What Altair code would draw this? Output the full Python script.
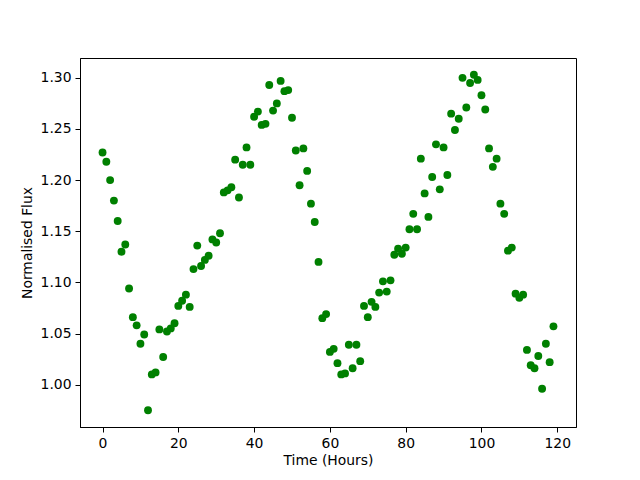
import altair as alt
import pandas as pd

hours = list(range(120))
flux = [
    1.227, 1.218, 1.200, 1.180, 1.160, 1.130, 1.137, 1.094, 1.066, 1.058,
    1.040, 1.049, 0.975, 1.010, 1.012, 1.054, 1.027, 1.052, 1.055, 1.060,
    1.077, 1.082, 1.088, 1.076, 1.113, 1.136, 1.116, 1.122, 1.126, 1.142,
    1.139, 1.148, 1.188, 1.190, 1.193, 1.220, 1.183, 1.215, 1.232, 1.215,
    1.262, 1.267, 1.254, 1.255, 1.293, 1.268, 1.275, 1.297, 1.287, 1.288,
    1.261, 1.229, 1.195, 1.231, 1.209, 1.177, 1.159, 1.120, 1.065, 1.069,
    1.032, 1.035, 1.021, 1.010, 1.011, 1.039, 1.016, 1.039, 1.023, 1.077,
    1.066, 1.081, 1.076, 1.090, 1.101, 1.091, 1.102, 1.127, 1.133, 1.128,
    1.134, 1.152, 1.167, 1.152, 1.221, 1.187, 1.164, 1.203, 1.235, 1.191,
    1.232, 1.205, 1.265, 1.249, 1.260, 1.300, 1.271, 1.295, 1.303, 1.298,
    1.283, 1.269, 1.231, 1.213, 1.221, 1.177, 1.167, 1.131, 1.134, 1.089,
    1.085, 1.088, 1.034, 1.019, 1.016, 1.028, 0.996, 1.040, 1.022, 1.057,
]
x_ticks = [0, 20, 40, 60, 80, 100, 120]
y_ticks = [1.00, 1.05, 1.10, 1.15, 1.20, 1.25, 1.30]

df = pd.DataFrame({"hours": hours, "flux": flux})

font = "DejaVu Sans"

chart = alt.Chart(df).mark_point(
    filled=True, shape="circle", size=62, color="#008000", opacity=1
).encode(
    x=alt.X("hours:Q", title="Time (Hours)",
            scale=alt.Scale(domain=[-5.95, 124.95], nice=False, zero=False),
            axis=alt.Axis(values=x_ticks, format="d")),
    y=alt.Y("flux:Q", title="Normalised Flux",
            scale=alt.Scale(domain=[0.9586, 1.3194], nice=False, zero=False),
            axis=alt.Axis(values=y_ticks, format=".2f")),
).properties(
    width=496, height=369,
    autosize=alt.AutoSizeParams(type="none"),
    padding={"left": 72, "top": 50, "right": 56, "bottom": 45},
).configure_axis(
    grid=False,
    domainColor="black",
    domainWidth=1,
    tickColor="black",
    tickSize=5,
    tickWidth=1,
    labelFont=font,
    labelFontSize=13.9,
    labelColor="black",
    labelPadding=4,
    titleFont=font,
    titleFontSize=13.9,
    titleFontWeight="normal",
    titleColor="black",
).configure_axisX(titlePadding=4).configure_axisY(titlePadding=6).configure_view(
    stroke="black", strokeWidth=1
)

chart.save("out.html", embed_options={"renderer": "svg", "actions": False})
